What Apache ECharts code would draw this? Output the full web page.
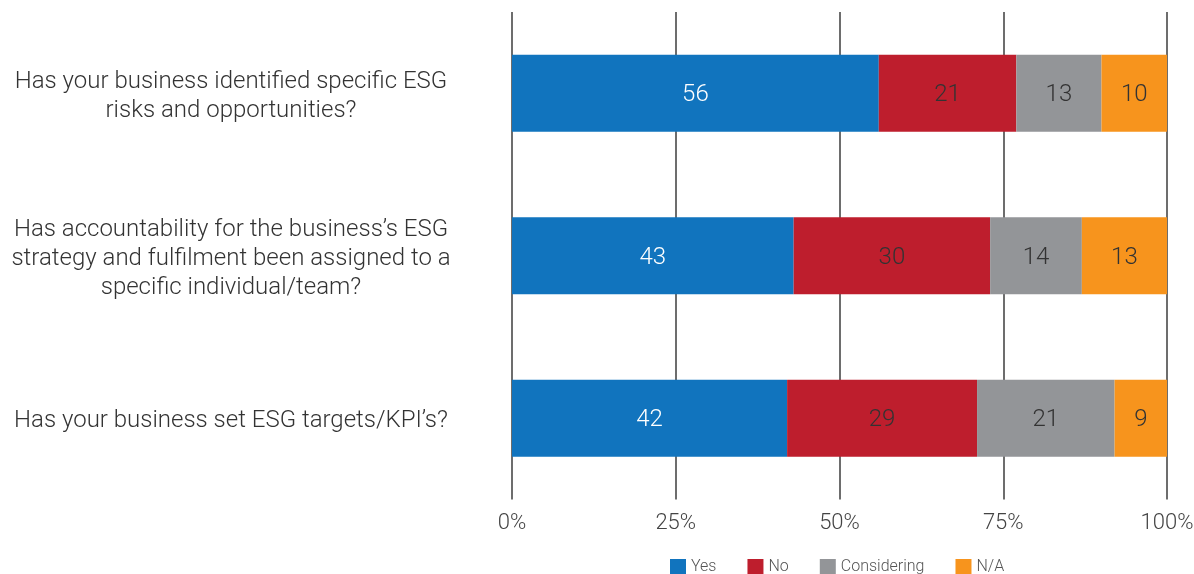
<!DOCTYPE html>
<html>
<head>
<meta charset="utf-8">
<script src="https://cdn.jsdelivr.net/npm/echarts@6/dist/echarts.min.js"></script>
<style>html,body{margin:0;padding:0;background:#fff}#c{width:1194px;height:574px}</style>
</head>
<body>
<div id="c"></div>
<script>
const categories = [
  "Has your business identified specific ESG\nrisks and opportunities?",
  "Has accountability for the business\u2019s ESG\nstrategy and fulfilment been assigned to a\nspecific individual/team?",
  "Has your business set ESG targets/KPI\u2019s?"
];
const seriesNames = ["Yes", "No", "Considering", "N/A"];
const yesValues = [56, 43, 42];
const noValues = [21, 30, 29];
const consideringValues = [13, 14, 21];
const naValues = [10, 13, 9];
const colors = ["#1174BE", "#BE1E2D", "#939598", "#F7941D"];
const labelColors = ["#ffffff", "#333333", "#333333", "#333333"];
const tickValues = [0, 25, 50, 75, 100];

const font = "Roboto";
const allValues = [yesValues, noValues, consideringValues, naValues];

const chart = echarts.init(document.getElementById('c'));
chart.setOption({
  animation: false,
  textStyle: { fontFamily: font },
  grid: { left: 512, right: 27, top: 12, height: 487.5, containLabel: false, outerBoundsMode: 'none' },
  legend: {
    left: 665, top: 554,
    itemWidth: 16, itemHeight: 16, itemGap: 31,
    icon: 'rect',
    textStyle: { fontFamily: font, fontSize: 16, fontWeight: 300, color: '#555' },
    data: seriesNames
  },
  xAxis: {
    type: 'value', min: 0, max: 100, interval: 25,
    axisLine: { show: false }, axisTick: { show: false },
    splitLine: { show: true, lineStyle: { color: '#3d3d3d', width: 1.5 } },
    axisLabel: { formatter: '{value}%', fontFamily: font, fontSize: 22, fontWeight: 300, color: '#444', margin: 13 }
  },
  yAxis: {
    type: 'category', inverse: true, data: categories,
    axisLine: { show: false }, axisTick: { show: false },
    axisLabel: {
      align: 'center', margin: 281, fontFamily: font, fontSize: 24, fontWeight: 300, color: '#333', lineHeight: 29,
      formatter: v => v.split('\n').map(s => '{a|' + s + '}').join('\n'),
      rich: { a: { fontFamily: font, fontSize: 24, fontWeight: 300, color: '#333', lineHeight: 29, padding: [6, 0, 0, 0] } }
    }
  },
  series: seriesNames.map((n, i) => ({
    name: n, type: 'bar', stack: 'total', barWidth: 77,
    itemStyle: { color: colors[i] },
    label: { show: true, position: 'inside', offset: [0, 2], fontFamily: font, fontSize: 24, fontWeight: 300, color: labelColors[i] },
    data: allValues[i]
  }))
});
</script>
</body>
</html>
